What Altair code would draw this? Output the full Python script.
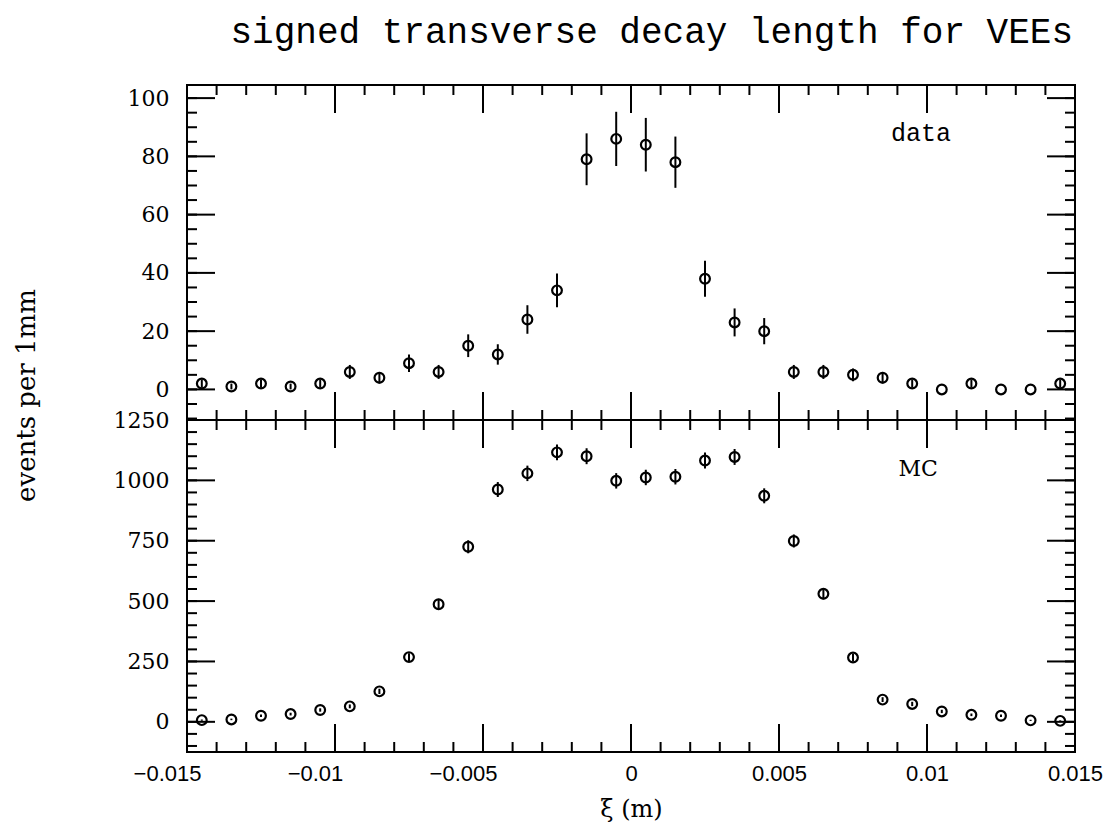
import altair as alt
import pandas as pd

# ---------------- data ----------------
bin_centres = [-0.0145, -0.0135, -0.0125, -0.0115, -0.0105, -0.0095, -0.0085, -0.0075,
               -0.0065, -0.0055, -0.0045, -0.0035, -0.0025, -0.0015, -0.0005, 0.0005,
               0.0015, 0.0025, 0.0035, 0.0045, 0.0055, 0.0065, 0.0075, 0.0085,
               0.0095, 0.0105, 0.0115, 0.0125, 0.0135, 0.0145]
data_counts = [2, 1, 2, 1, 2, 6, 4, 9, 6, 15, 12, 24, 34, 79, 86,
               84, 78, 38, 23, 20, 6, 6, 5, 4, 2, 0, 2, 0, 0, 2]
data_errors = [1.4, 1.0, 1.4, 1.0, 1.4, 2.4, 2.0, 3.0, 2.4, 3.9, 3.5, 4.9, 5.8, 8.9, 9.3,
               9.2, 8.8, 6.2, 4.8, 4.5, 2.4, 2.4, 2.2, 2.0, 1.4, 0.0, 1.4, 0.0, 0.0, 1.4]
mc_counts = [7, 10, 25, 32, 49, 64, 126, 268, 487, 725, 962, 1029, 1116, 1100, 998,
             1012, 1015, 1082, 1097, 936, 749, 530, 266, 92, 74, 43, 29, 25, 6, 4]
mc_errors = [2.6, 3.2, 5, 5.7, 7, 8, 11, 16, 22, 27, 31, 32, 33, 33, 32,
             32, 32, 33, 33, 31, 27, 23, 16, 10, 9, 7, 5.4, 5, 2.4, 2]

# axis ticks and labels
x_major = [-0.015, -0.01, -0.005, 0.0, 0.005, 0.01, 0.015]
x_minor = [-0.015, -0.014, -0.013, -0.012, -0.011, -0.010, -0.009, -0.008, -0.007, -0.006,
           -0.005, -0.004, -0.003, -0.002, -0.001, 0.0, 0.001, 0.002, 0.003, 0.004, 0.005,
           0.006, 0.007, 0.008, 0.009, 0.010, 0.011, 0.012, 0.013, 0.014, 0.015]
top_y_major = [0, 20, 40, 60, 80, 100]
top_y_minor = [-10, -5, 0, 5, 10, 15, 20, 25, 30, 35, 40, 45, 50, 55, 60, 65, 70, 75,
               80, 85, 90, 95, 100]
mc_y_major = [0, 250, 500, 750, 1000, 1250]
mc_y_minor = [-100, -50, 0, 50, 100, 150, 200, 250, 300, 350, 400, 450, 500, 550, 600,
              650, 700, 750, 800, 850, 900, 950, 1000, 1050, 1100, 1150, 1200, 1250]

title_text = "signed transverse decay length for VEEs"
y_title = "events per 1mm"
x_title = "ξ (m)"
top_label = {"x": [0.0098], "y": [85.3], "t": ["data"]}
mc_label = {"x": [0.0097], "y": [1018], "t": ["MC"]}

# ---------------- layout / style ----------------
W = 888
H_TOP = 335
H_MC = 332
x_dom = [-0.015, 0.015]
top_dom = [-10.5, 104.5]
mc_dom = [-125, 1250]
MAJ, MIN = 28, 10
INK = "black"

xscale = alt.Scale(domain=x_dom, nice=False, zero=False)


def panel(counts, errors, dom, y_major, y_minor, height, xaxis, yaxis, label, label_font,
          label_size):
    df = pd.DataFrame({"x": bin_centres, "n": counts, "e": errors})
    df["lo"] = df["n"] - df["e"]
    df["hi"] = df["n"] + df["e"]
    yscale = alt.Scale(domain=dom, nice=False, zero=False)

    def X(f):
        return alt.X(f, scale=xscale, axis=xaxis)

    def Y(f):
        return alt.Y(f, scale=yscale, axis=yaxis)

    pts = alt.Chart(df).mark_point(shape="circle", filled=False, size=95, strokeWidth=2.2,
                                   color=INK, opacity=1).encode(x=X("x:Q"), y=Y("n:Q"))
    bars = alt.Chart(df).mark_rule(color=INK, strokeWidth=2).encode(
        x=X("x:Q"), y=Y("lo:Q"), y2="hi:Q")
    txt = alt.Chart(pd.DataFrame(label)).mark_text(
        font=label_font, fontSize=label_size, color=INK, align="center",
        baseline="alphabetic").encode(x=X("x:Q"), y=Y("y:Q"), text="t:N")

    layers = [pts, bars, txt]
    for vals, ln in ((x_major, MAJ), (x_minor, MIN)):
        base = alt.Chart(pd.DataFrame({"v": vals})).mark_rule(color=INK, strokeWidth=2)
        layers.append(base.encode(x=X("v:Q"), y=alt.value(0), y2=alt.value(ln)))
        layers.append(base.encode(x=X("v:Q"), y=alt.value(height), y2=alt.value(height - ln)))
    for vals, ln in ((y_major, MAJ), (y_minor, MIN)):
        base = alt.Chart(pd.DataFrame({"v": vals})).mark_rule(color=INK, strokeWidth=2)
        layers.append(base.encode(y=Y("v:Q"), x=alt.value(0), x2=alt.value(ln)))
        layers.append(base.encode(y=Y("v:Q"), x=alt.value(W), x2=alt.value(W - ln)))
    return alt.layer(*layers).properties(width=W, height=height)


top_xaxis = alt.Axis(values=x_major, labels=False, ticks=False, domain=False, grid=False,
                     title=None)
top_yaxis = alt.Axis(values=top_y_major, ticks=False, domain=False, grid=False, format="d",
                     labelPadding=18, labelOverlap=False, title=y_title,
                     titleFont="DejaVu Serif", titleFontSize=26, titleFontWeight="normal",
                     titleAngle=270, titleX=-161, titleY=310, titleAlign="center",
                     titleBaseline="middle", titleColor=INK)
mc_yaxis = alt.Axis(values=mc_y_major, ticks=False, domain=False, grid=False, format="d",
                    labelPadding=18, labelOverlap=False, title=None)
mc_xaxis = alt.Axis(values=x_major, ticks=False, domain=False, grid=False, format=".3~f",
                    labelFont="Liberation Sans", labelFontSize=22, labelPadding=11,
                    labelFlush=False, labelOverlap=False,
                    labelOffset={"condition": {"test": "datum.value < 0", "value": -20},
                                 "value": 0},
                    title=x_title, titleFont="DejaVu Serif", titleFontSize=24,
                    titleFontWeight="normal", titlePadding=13, titleColor=INK)

top = panel(data_counts, data_errors, top_dom, top_y_major, top_y_minor, H_TOP,
            top_xaxis, top_yaxis, top_label, "Liberation Mono", 25)
mc = panel(mc_counts, mc_errors, mc_dom, mc_y_major, mc_y_minor, H_MC,
           mc_xaxis, mc_yaxis, mc_label, "DejaVu Serif", 22)

chart = alt.vconcat(top, mc, spacing=0, bounds="flush").properties(
    title=alt.TitleParams(text=title_text, font="Liberation Mono", fontSize=36,
                          fontWeight="normal", color=INK, anchor="middle", dx=94,
                          offset=32),
    padding={"left": 12, "top": 14, "right": 0, "bottom": 2},
    background="white",
).configure_view(stroke=INK, strokeWidth=2).configure_axis(
    labelFont="DejaVu Serif", labelFontSize=22, labelColor=INK,
)

chart.save("out.html", embed_options={"renderer": "svg", "actions": False})
